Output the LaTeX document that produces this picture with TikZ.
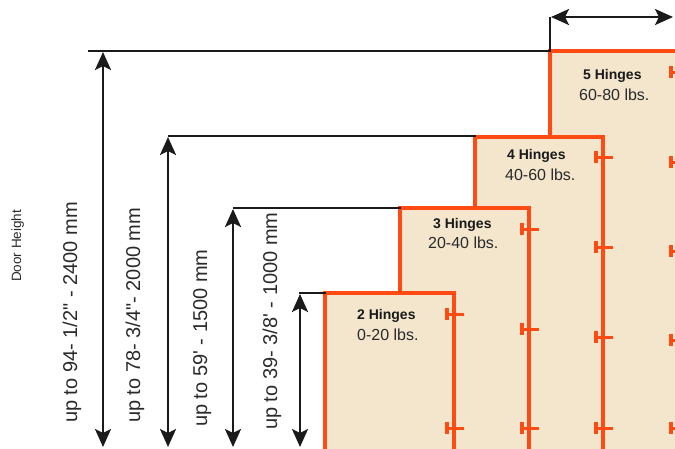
\documentclass[tikz,border=0pt]{standalone}
\usepackage{fontspec}
\setmainfont{Liberation Sans}
\usetikzlibrary{arrows.meta}
\definecolor{doorfill}{HTML}{F3E6CC}
\definecolor{doorline}{HTML}{FF4A14}
\definecolor{ink}{HTML}{1A1A1A}
\definecolor{txt}{HTML}{2A2A2A}
\tikzset{
  doorbox/.style={fill=doorfill, draw=doorline, line width=4pt},
  hingepin/.style={draw=doorline, line width=3pt},
  guide/.style={draw=ink, line width=2pt},
  dimtip/.tip={Stealth[length=18pt,width=16pt,inset=4pt]},
  dimarrow/.style={draw=ink, line width=2.6pt, dimtip-dimtip},
  sidelbl/.style={inner sep=0pt, rotate=90, anchor=base west, text=txt, font=\fontsize{20}{22}\selectfont},
  smalllbl/.style={inner sep=0pt, rotate=90, anchor=base west, text=txt, font=\fontsize{13.5}{15}\selectfont},
  hingelbl/.style={inner sep=0pt, anchor=base west, text=ink, font=\fontsize{14}{16}\selectfont\bfseries},
  weightlbl/.style={inner sep=0pt, anchor=base west, text=txt, font=\fontsize{16}{18}\selectfont},
}
\begin{document}
\begin{tikzpicture}[x=1pt,y=-1pt]
\useasboundingbox (0,0) rectangle (675,448);
\clip (0,0) rectangle (675,448);
% doors, back to front
\filldraw[doorbox] (550,51) rectangle (679,470);
\foreach \y in {72,162,251,340,428} {
  \fill[doorline] (669,\y-6) rectangle (673,\y+6);
  \draw[hingepin] (671,\y) -- (689,\y);
}
\filldraw[doorbox] (475,137) rectangle (603,470);
\foreach \y in {157,247,337,428} {
  \fill[doorline] (594,\y-6) rectangle (598,\y+6);
  \draw[hingepin] (596,\y) -- (613,\y);
}
\filldraw[doorbox] (400,208) rectangle (529,470);
\foreach \y in {229,329,428} {
  \fill[doorline] (520,\y-6) rectangle (524,\y+6);
  \draw[hingepin] (522,\y) -- (539,\y);
}
\filldraw[doorbox] (325,293) rectangle (454,470);
\foreach \y in {314,428} {
  \fill[doorline] (445,\y-6) rectangle (449,\y+6);
  \draw[hingepin] (447,\y) -- (464,\y);
}
% door labels
\node[hingelbl] (h5) at (583,79) {5 Hinges};
\node[weightlbl] (w5) at (579,100) {60-80 lbs.};
\node[hingelbl] (h4) at (507,159) {4 Hinges};
\node[weightlbl] (w4) at (505,180) {40-60 lbs.};
\node[hingelbl] (h3) at (433,228) {3 Hinges};
\node[weightlbl] (w3) at (428,248) {20-40 lbs.};
\node[hingelbl] (h2) at (357,319) {2 Hinges};
\node[weightlbl] (w2) at (357,340) {0-20 lbs.};
% guide lines and dimension arrows
\coordinate (g1l) at (88,51);   \coordinate (g1r) at (551,51);
\coordinate (g2l) at (168,136); \coordinate (g2r) at (476,136);
\coordinate (g3l) at (233,208); \coordinate (g3r) at (401,208);
\coordinate (g4l) at (299,293); \coordinate (g4r) at (326,293);
\draw[guide] (g1l) -- (g1r);
\draw[guide] (g2l) -- (g2r);
\draw[guide] (g3l) -- (g3r);
\draw[guide] (g4l) -- (g4r);
\coordinate (a1t) at (103,52);  \coordinate (a1b) at (103,447);
\coordinate (a2t) at (168,137); \coordinate (a2b) at (168,447);
\coordinate (a3t) at (233,209); \coordinate (a3b) at (233,447);
\coordinate (a4t) at (300,294); \coordinate (a4b) at (300,447);
\draw[dimarrow] (a1b) -- (a1t);
\draw[dimarrow] (a2b) -- (a2t);
\draw[dimarrow] (a3b) -- (a3t);
\draw[dimarrow] (a4b) -- (a4t);
% width dimension
\coordinate (wt) at (550,50); \coordinate (wc) at (550,17); \coordinate (wl) at (551,17); \coordinate (wr) at (673,17);
\draw[draw=ink, line width=2.4pt] (wt) -- (wc);
\draw[dimarrow] (wl) -- (wr);
% side labels
\node[smalllbl] (dh) at (21,282) {Door Height};
\node[sidelbl] (t1) at (77,423) {up to 94- 1/2\textquotedbl{} - 2400 mm};
\node[sidelbl] (t2) at (140,423) {up to 78- 3/4\textquotedbl{}- 2000 mm};
\node[sidelbl] (t3) at (207,427) {up to 59\textquotesingle{} - 1500 mm};
\node[sidelbl] (t4) at (277,430) {up to 39- 3/8\textquotesingle{} - 1000 mm};
\end{tikzpicture}
\end{document}
